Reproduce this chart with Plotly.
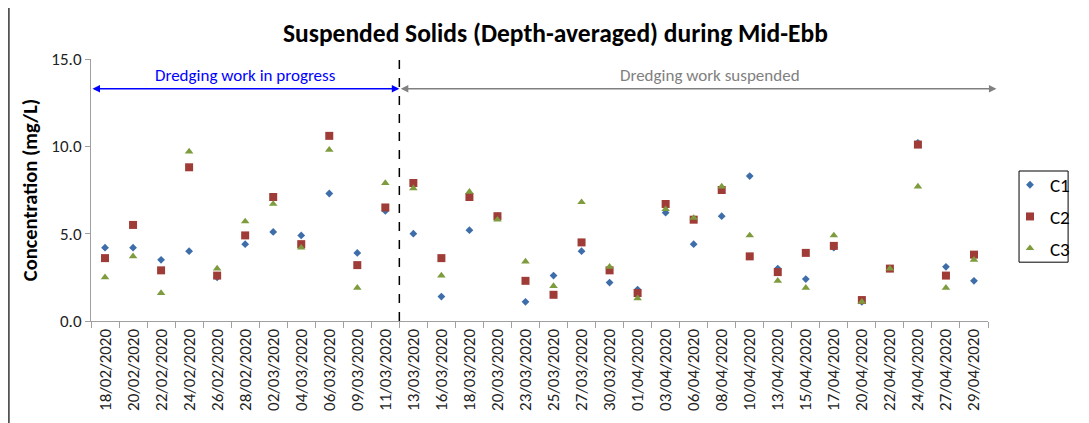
import plotly.graph_objects as go

dates = ["18/02/2020", "20/02/2020", "22/02/2020", "24/02/2020", "26/02/2020", "28/02/2020",
         "02/03/2020", "04/03/2020", "06/03/2020", "09/03/2020", "11/03/2020", "13/03/2020",
         "16/03/2020", "18/03/2020", "20/03/2020", "23/03/2020", "25/03/2020", "27/03/2020",
         "30/03/2020", "01/04/2020", "03/04/2020", "06/04/2020", "08/04/2020", "10/04/2020",
         "13/04/2020", "15/04/2020", "17/04/2020", "20/04/2020", "22/04/2020", "24/04/2020",
         "27/04/2020", "29/04/2020"]

c1 = [4.2, 4.2, 3.5, 4.0, 2.5, 4.4, 5.1, 4.9, 7.3, 3.9, 6.3, 5.0,
      1.4, 5.2, 6.0, 1.1, 2.6, 4.0, 2.2, 1.8, 6.2, 4.4, 6.0, 8.3,
      3.0, 2.4, 4.2, 1.1, 3.0, 10.2, 3.1, 2.3]
c2 = [3.6, 5.5, 2.9, 8.8, 2.6, 4.9, 7.1, 4.4, 10.6, 3.2, 6.5, 7.9,
      3.6, 7.1, 6.0, 2.3, 1.5, 4.5, 2.9, 1.6, 6.7, 5.8, 7.5, 3.7,
      2.8, 3.9, 4.3, 1.2, 3.0, 10.1, 2.6, 3.8]
c3 = [2.5, 3.7, 1.6, 9.7, 3.0, 5.7, 6.7, 4.2, 9.8, 1.9, 7.9, 7.6,
      2.6, 7.4, 5.8, 3.4, 2.0, 6.8, 3.1, 1.3, 6.4, 5.9, 7.7, 4.9,
      2.3, 1.9, 4.9, 1.1, 3.0, 7.7, 1.9, 3.5]

series_names = ["C1", "C2", "C3"]
title_text = "Suspended Solids (Depth-averaged) during Mid-Ebb"
y_title = "Concentration (mg/L)"
split_label_left = "Dredging work in progress"
split_label_right = "Dredging work suspended"

FONT = "Carlito, Calibri, 'Liberation Sans Narrow', 'Open Sans', sans-serif"

fig = go.Figure()
styles = [
    dict(symbol="diamond", color="#3E6EAA", size=6),
    dict(symbol="square", color="#A03C38", size=8),
    dict(symbol="triangle-up", color="#7E9C3E", size=7.5),
]
for name, vals, st in zip(series_names, [c1, c2, c3], styles):
    fig.add_trace(go.Scatter(
        x=list(range(len(dates))), y=vals, mode="markers", name=name,
        legendgroup=name,
        marker=dict(symbol=st["symbol"], color=st["color"], size=st["size"], line=dict(width=0)),
    ))

n = len(dates)
split = 10.5

# vertical dashed separator
fig.add_shape(type="line", xref="x", yref="y", x0=split, x1=split, y0=0, y1=15.35,
              line=dict(color="black", width=1.5, dash="dash"))

# arrows
fig.add_annotation(x=split, y=13.3, ax=-0.5, ay=13.3, xref="x", yref="y", axref="x", ayref="y",
                   text="", showarrow=True, arrowhead=2, arrowside="end+start", arrowsize=1,
                   arrowwidth=1.5, arrowcolor="#0000FF")
fig.add_annotation(x=31.8, y=13.3, ax=split, ay=13.3, xref="x", yref="y", axref="x", ayref="y",
                   text="", showarrow=True, arrowhead=2, arrowside="end+start", arrowsize=1,
                   arrowwidth=1.5, arrowcolor="#808080")
fig.add_annotation(x=5.0, y=14.05, xref="x", yref="y", text=split_label_left, showarrow=False,
                   font=dict(family=FONT, size=17, color="#0000FF"))
fig.add_annotation(x=21.6, y=14.05, xref="x", yref="y", text=split_label_right, showarrow=False,
                   font=dict(family=FONT, size=17, color="#808080"))

# chart title
fig.add_annotation(x=0.5178, y=1.099, xref="paper", yref="paper", xanchor="center", yanchor="middle",
                   text="<b>" + title_text + "</b>", showarrow=False,
                   font=dict(family=FONT, size=25.5, color="#000000"))

# outer frame (left edge)
fig.add_shape(type="line", xref="paper", yref="paper", x0=-0.0915, x1=-0.0915, y0=1.3, y1=-0.45,
              line=dict(color="#000000", width=1.2))

# legend box
fig.add_shape(type="rect", xref="paper", yref="paper", x0=1.0346, x1=1.0893, y0=0.5725, y1=0.2245,
              line=dict(color="#000000", width=1), fillcolor="rgba(0,0,0,0)")

# page body has an 8px margin; figure is sized/offset to compensate
fig.update_layout(
    width=1081, height=415,
    margin=dict(l=83, r=101, t=51, b=102, autoexpand=False),
    paper_bgcolor="white", plot_bgcolor="white",
    font=dict(family=FONT, color="#000000"),
    showlegend=True,
    legend=dict(x=1.0245, y=0.592, xanchor="left", yanchor="top",
                borderwidth=0, bgcolor="rgba(0,0,0,0)",
                font=dict(family=FONT, size=19, color="#000000"),
                tracegroupgap=4, itemwidth=30),
    xaxis=dict(type="linear", range=[-0.5, n - 0.5], tickmode="array", automargin=False,
               tickvals=list(range(n)), ticktext=dates, tickangle=-90,
               showgrid=False, zeroline=False, showline=True, linecolor="#A0A0A0", linewidth=1.2,
               ticks="", tickfont=dict(family=FONT, size=17, color="#222222")),
    yaxis=dict(range=[0, 15], dtick=5, tickformat=".1f", showgrid=False, zeroline=False,
               automargin=False,
               showline=True, linecolor="#A0A0A0", linewidth=1.2, ticks="outside", ticklen=5,
               tickcolor="#A0A0A0",
               tickfont=dict(family=FONT, size=17, color="#222222"),
               title=dict(text="<b>" + y_title + "</b>", standoff=8,
                          font=dict(family=FONT, size=20.5, color="#000000"))),
)

# x tick marks at category boundaries (minor ticks)
fig.update_xaxes(minor=dict(tickmode="array", tickvals=[i - 0.5 for i in range(n + 1)],
                            ticks="outside", ticklen=6, tickcolor="#A0A0A0", tickwidth=1.2))

fig.write_html("out.html")
